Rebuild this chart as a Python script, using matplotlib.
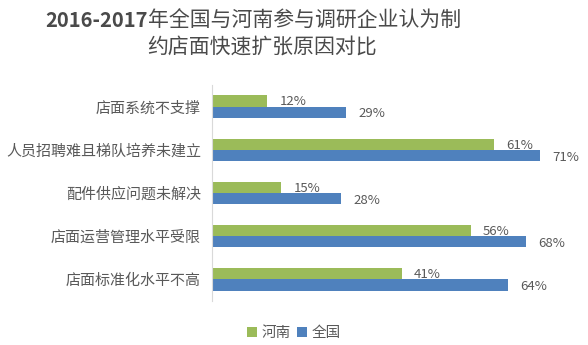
import numpy as np
import matplotlib
matplotlib.use('Agg')
import matplotlib.pyplot as plt

plt.rcParams['font.family'] = ['Noto Sans CJK SC', 'DejaVu Sans']

categories = ['店面系统不支撑', '人员招聘难且梯队培养未建立', '配件供应问题未解决',
              '店面运营管理水平受限', '店面标准化水平不高']
henan = [0.12, 0.61, 0.15, 0.56, 0.41]
quanguo = [0.29, 0.71, 0.28, 0.68, 0.64]

green = '#9BBB59'
blue = '#4F81BD'
txt = '#595959'

fig = plt.figure(figsize=(5.88, 3.45), dpi=100)
ax = fig.add_axes([0.3605, 0.1275, 0.629, 0.626])

y = np.arange(len(categories))
h = 0.26
bg = ax.barh(y - h / 2, henan, height=h, color=green, label='河南')
bb = ax.barh(y + h / 2, quanguo, height=h, color=blue, label='全国')

for rect, v in zip(bg, henan):
    ax.text(rect.get_width() + 0.026, rect.get_y() + rect.get_height() / 2 + 0.02,
            f'{v:.0%}', va='center', ha='left', fontsize=9.5, color=txt)
for rect, v in zip(bb, quanguo):
    ax.text(rect.get_width() + 0.026, rect.get_y() + rect.get_height() / 2 + 0.04,
            f'{v:.0%}', va='center', ha='left', fontsize=9.5, color=txt)

ax.set_ylim(len(categories) - 0.5, -0.5)
ax.set_xlim(0, 0.8)
ax.set_yticks(y)
ax.set_yticklabels(categories, fontsize=10.8, color=txt)
ax.tick_params(axis='y', length=0, pad=8)
ax.set_xticks([])
for s in ['top', 'right', 'bottom']:
    ax.spines[s].set_visible(False)
ax.spines['left'].set_color('#D9D9D9')

# title: bold years, regular chinese
tc = '#4a4a4a'
fig.text(148 / 588, 0.942, '2016-2017', ha='right', va='center',
         fontsize=14.5, fontweight='bold', color=tc)
fig.text(148 / 588, 0.942, '年全国与河南参与调研企业认为制', ha='left', va='center',
         fontsize=15, color=tc)
fig.text(262 / 588, 0.864, '约店面快速扩张原因对比', ha='center', va='center',
         fontsize=15, color=tc)

fig.legend(handles=[bg, bb], labels=['河南', '全国'], loc='center', bbox_to_anchor=(0.5, 0.035),
           ncol=2, frameon=False, fontsize=10.5, handlelength=0.7, handleheight=0.7,
           handletextpad=0.3, columnspacing=0.4, labelcolor=txt)

fig.savefig('out.png', dpi=100)
